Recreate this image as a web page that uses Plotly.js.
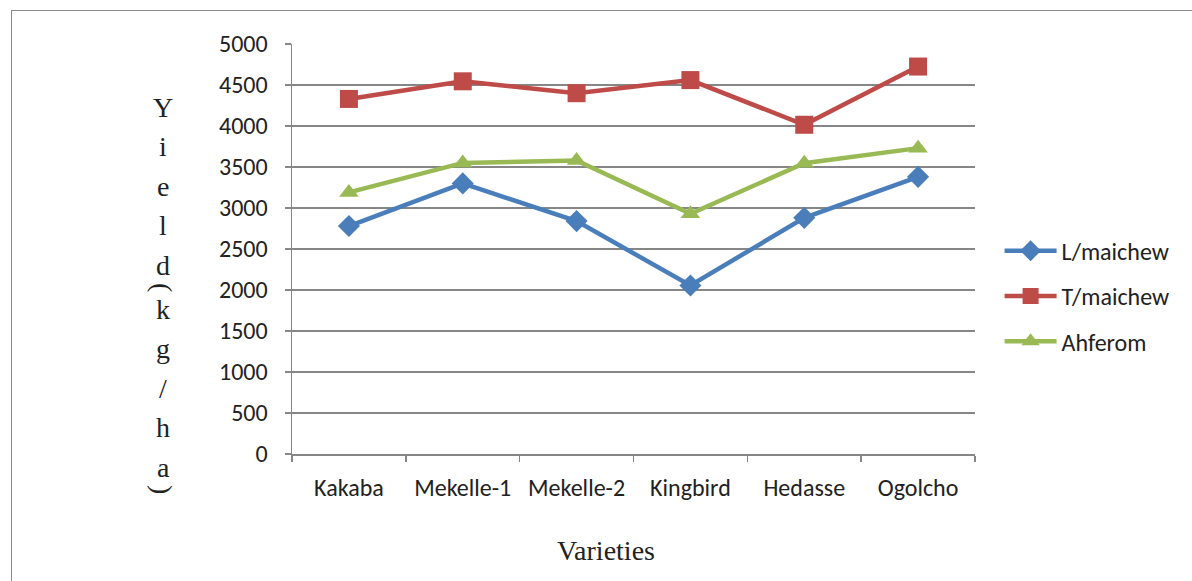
<!DOCTYPE html>
<html>
<head>
<meta charset="utf-8">
<script src="https://cdn.plot.ly/plotly-3.0.1.min.js"></script>
<style>
html,body{margin:0;padding:0;background:#fff;overflow:hidden;}
#frame{position:absolute;left:11px;top:10px;width:1300px;height:700px;border:1.5px solid #8c8c8c;}
#chart{position:absolute;left:0;top:0;width:1192px;height:581px;}
</style>
</head>
<body>
<div id="frame"></div>
<div id="chart"></div>
<script>
const categories = ["Kakaba", "Mekelle-1", "Mekelle-2", "Kingbird", "Hedasse", "Ogolcho"];
const lMaichew = [2780, 3300, 2840, 2055, 2880, 3380];
const tMaichew = [4330, 4545, 4400, 4560, 4015, 4725];
const ahferom  = [3190, 3550, 3580, 2930, 3545, 3730];
const seriesNames = ["L/maichew", "T/maichew", "Ahferom"];
const yTitle = "Yield(kg/ha)";
const xTitle = "Varieties";

const tickFont = {family: "Carlito, Calibri, Lato, 'Open Sans', sans-serif", size: 24, color: "#222"};
const serif = {family: "'Liberation Serif', 'DejaVu Serif', serif", size: 28, color: "#222"};

function trace(y, name, color, symbol, msize, grp) {
  return {
    x: categories, y: y, name: name, type: "scatter", mode: "lines+markers",
    line: {color: color, width: 4.5},
    marker: {color: color, symbol: symbol, size: msize},
    legendgroup: grp
  };
}
const data = [
  trace(lMaichew, seriesNames[0], "#4A7EBB", "diamond", 17, "a"),
  trace(tMaichew, seriesNames[1], "#BE4B48", "square", 18, "b"),
  trace(ahferom,  seriesNames[2], "#98B954", "triangle-up", 17, "c")
];

// plot area geometry (pixels) for placing the stacked y title
const L = 292, R = 975, T = 44, B = 454;
const annotations = [];
let py = 107, prev = null;
for (const ch of yTitle) {
  if (prev !== null) {
    const paren = (ch === "(" || ch === ")" || prev === "(" || prev === ")");
    py += paren ? 22 : 39.5;
  }
  const isParen = (ch === "(" || ch === ")");
  annotations.push({
    text: ch, xref: "paper", yref: "paper",
    x: (163 - L) / (R - L), y: (B - py) / (B - T),
    xanchor: "center", yanchor: "middle", showarrow: false,
    textangle: isParen ? 90 : 0, font: serif
  });
  prev = ch;
}
annotations.push({
  text: xTitle, xref: "paper", yref: "paper",
  x: (606 - L) / (R - L), y: (B - 550) / (B - T),
  xanchor: "center", yanchor: "middle", showarrow: false,
  font: serif
});

const layout = {
  width: 1192, height: 581,
  margin: {l: L, r: 1192 - R, t: T, b: 581 - B},
  paper_bgcolor: "rgba(0,0,0,0)", plot_bgcolor: "#fff",
  showlegend: true,
  legend: {
    x: 1.036, y: 0.385, xanchor: "left", yanchor: "middle",
    font: tickFont, tracegroupgap: 11, itemwidth: 52, bgcolor: "rgba(0,0,0,0)"
  },
  xaxis: {
    type: "category", range: [-0.5, 5.5],
    showline: true, linecolor: "#868686", linewidth: 1.5,
    ticks: "outside", tickson: "boundaries", ticklen: 6, tickcolor: "#868686", tickwidth: 1.5,
    showgrid: false, tickfont: tickFont, fixedrange: true, ticklabelstandoff: 12
  },
  yaxis: {
    range: [0, 5000], dtick: 500, tick0: 0,
    showline: true, linecolor: "#868686", linewidth: 1.5,
    ticks: "outside", ticklen: 6, tickcolor: "#868686", tickwidth: 1.5,
    showgrid: true, gridcolor: "#868686", gridwidth: 1.5,
    zeroline: false, tickfont: tickFont, fixedrange: true, ticklabelstandoff: 12
  },
  annotations: annotations
};
Plotly.newPlot("chart", data, layout, {displayModeBar: false, staticPlot: true});
</script>
</body>
</html>
